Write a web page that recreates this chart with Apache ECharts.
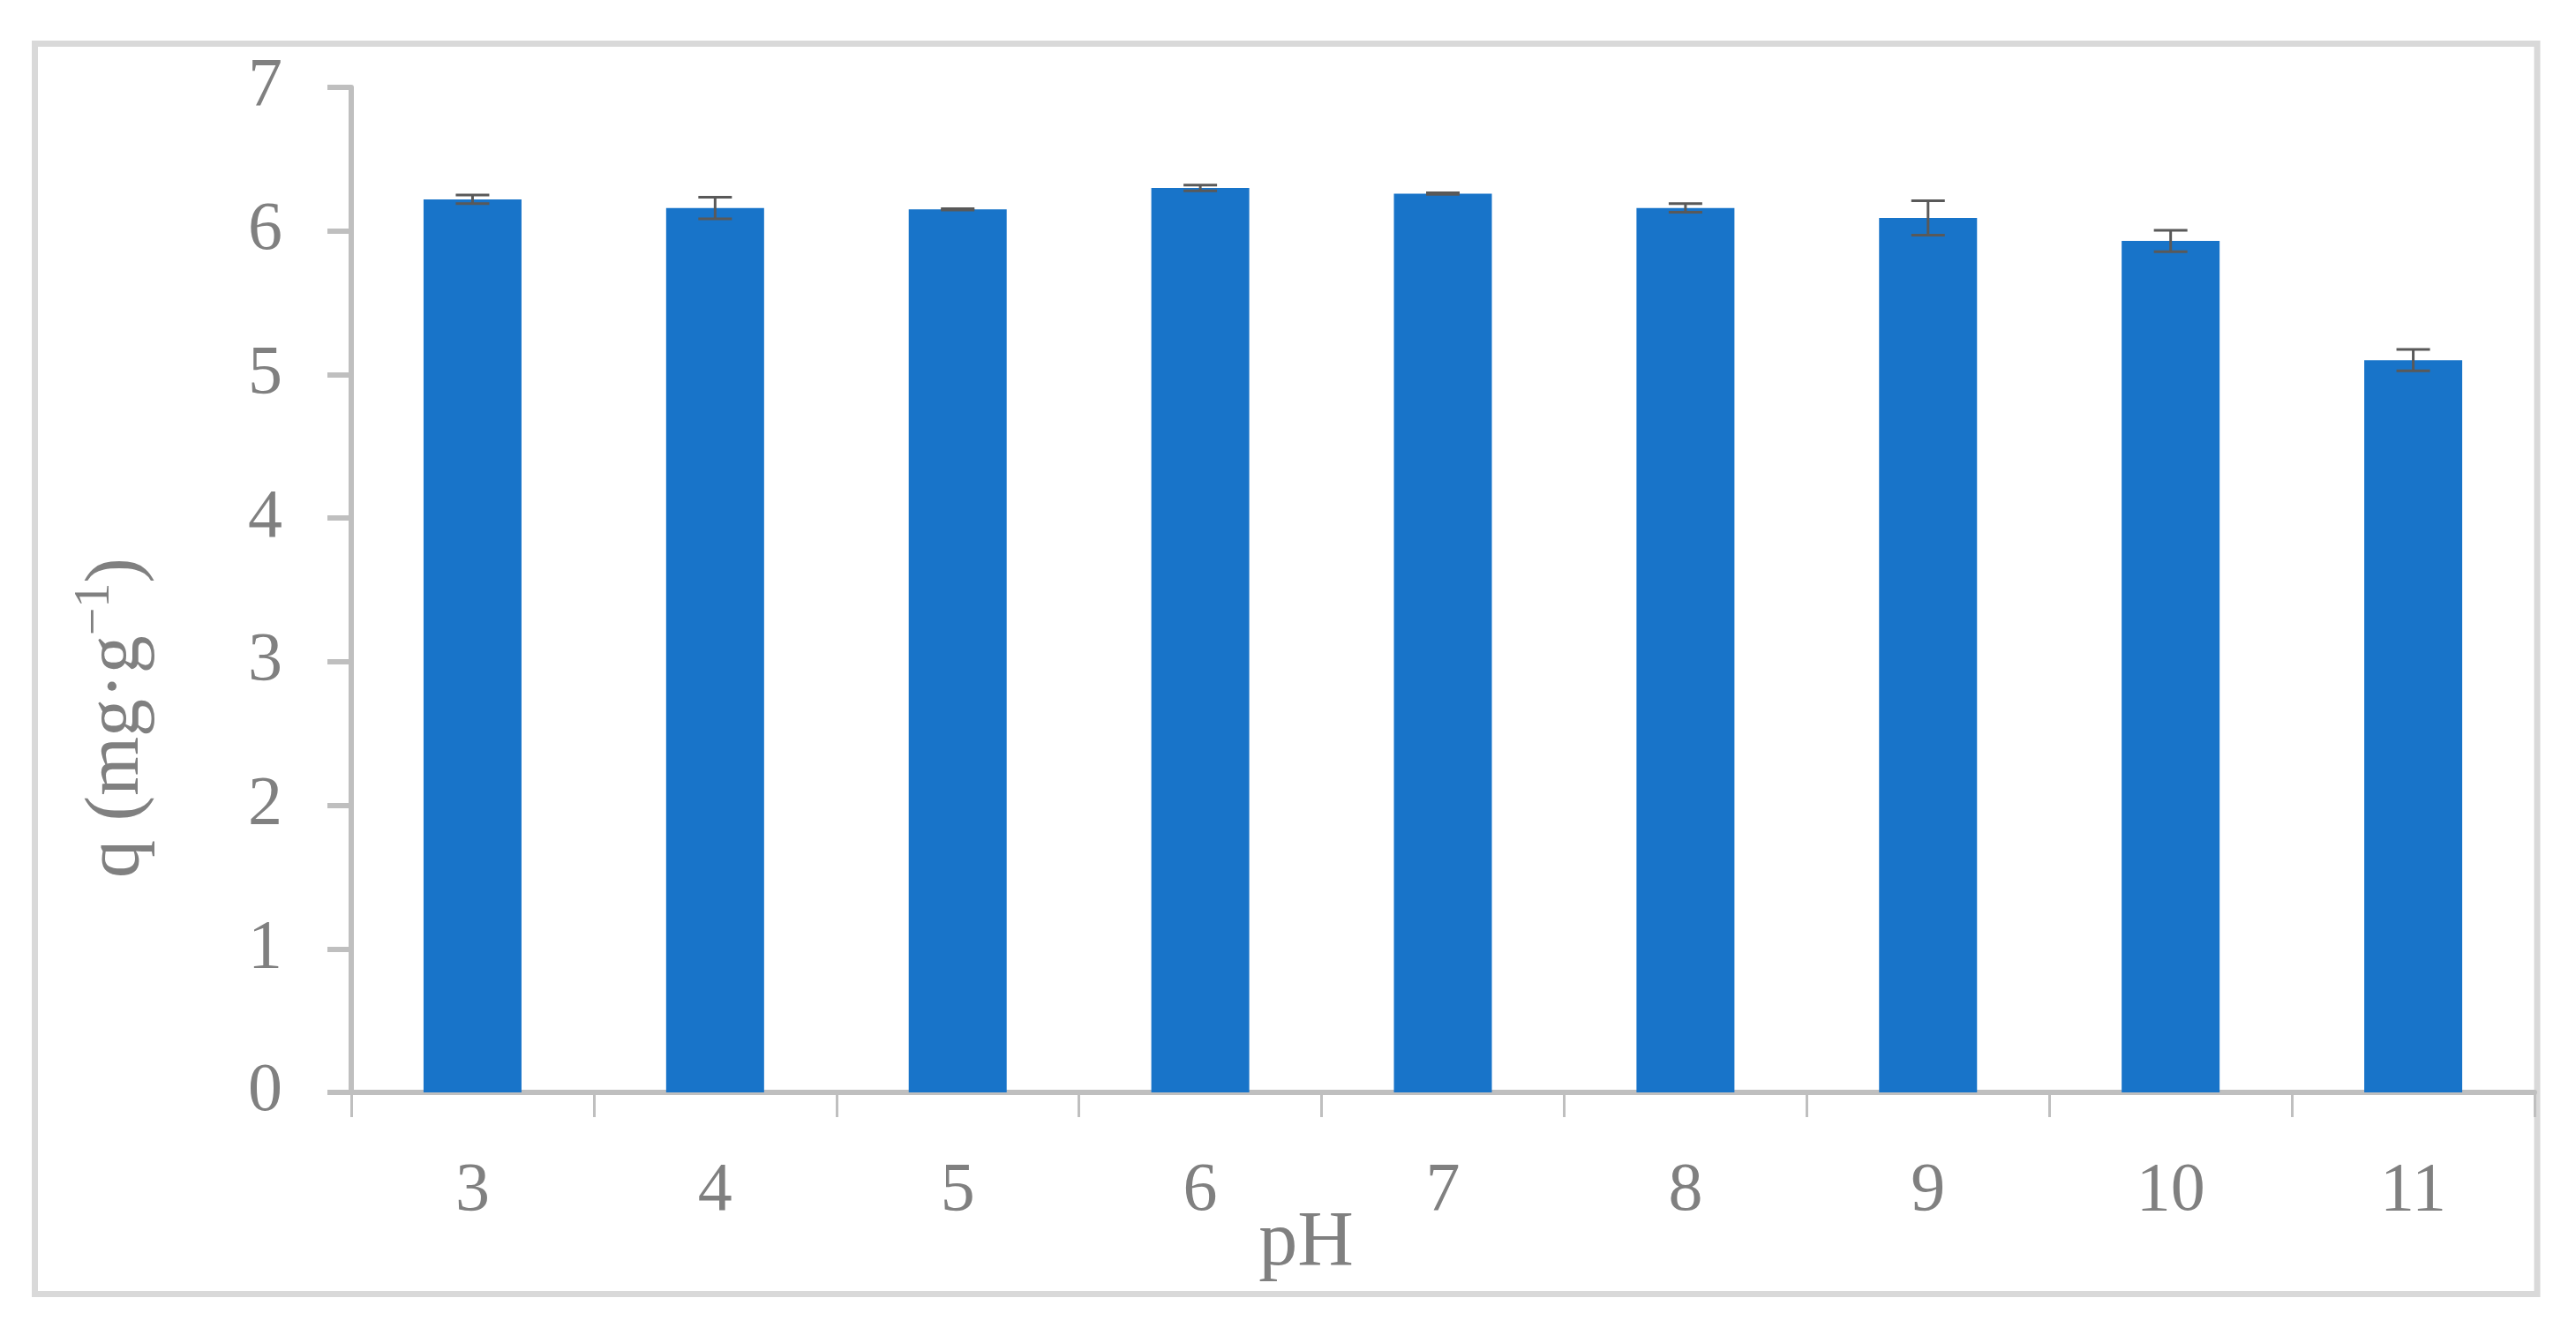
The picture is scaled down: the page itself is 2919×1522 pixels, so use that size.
<!DOCTYPE html>
<html>
<head>
<meta charset="utf-8">
<script src="https://cdn.jsdelivr.net/npm/echarts@6/dist/echarts.min.js"></script>
<style>
html,body{margin:0;padding:0;background:#fff;}
#chart{width:2919px;height:1522px;}
</style>
</head>
<body>
<div id="chart"></div>
<script>
const categories = ['3', '4', '5', '6', '7', '8', '9', '10', '11'];
const qValues = [6.22, 6.16, 6.15, 6.30, 6.26, 6.16, 6.09, 5.93, 5.10];
const qErrors = [0.03, 0.075, 0.005, 0.02, 0.005, 0.03, 0.12, 0.075, 0.075];
const yTicks = [0, 1, 2, 3, 4, 5, 6, 7];

const FONT = 'Liberation Serif';
const GREY = '#808080';

const chart = echarts.init(document.getElementById('chart'), null, {renderer: 'canvas'});

const errData = qValues.map((v, i) => [i, v, qErrors[i]]);

chart.setOption({
  animation: false,
  backgroundColor: '#ffffff',
  graphic: [{
    type: 'rect',
    shape: {x: 39.5, y: 49.5, width: 2835.5, height: 1417},
    style: {fill: 'none', stroke: '#d9d9d9', lineWidth: 7},
    silent: true,
    z: 0
  }],
  grid: {left: 398, top: 99, width: 2474, height: 1139, containLabel: false},
  xAxis: {
    type: 'category',
    data: categories,
    boundaryGap: true,
    name: 'pH',
    nameLocation: 'middle',
    nameGap: 128,
    nameMoveOverlap: false,
    nameTextStyle: {fontFamily: FONT, fontSize: 88, color: GREY, padding: [0, 310, 0, 0]},
    axisLine: {show: true, lineStyle: {color: '#bfbfbf', width: 6}},
    axisTick: {show: true, alignWithLabel: false, length: 28, lineStyle: {color: '#bfbfbf', width: 3}},
    axisLabel: {fontFamily: FONT, fontSize: 78, color: GREY, margin: 74},
    splitLine: {show: false}
  },
  yAxis: {
    type: 'value',
    min: yTicks[0],
    max: yTicks[yTicks.length - 1],
    interval: 1,
    name: '{a|q (mg·g}{b|−1}{a|)}',
    nameLocation: 'middle',
    nameGap: 222,
    nameRotate: 90,
    nameMoveOverlap: false,
    nameTextStyle: {
      color: GREY,
      padding: [0, 290, 0, 0],
      rich: {
        a: {fontFamily: FONT, fontSize: 86, color: GREY, lineHeight: 96, verticalAlign: 'bottom'},
        b: {fontFamily: FONT, fontSize: 56, color: GREY, lineHeight: 56, verticalAlign: 'top'}
      }
    },
    axisLine: {show: true, lineStyle: {color: '#bfbfbf', width: 6}},
    axisTick: {show: true, inside: false, length: 27, lineStyle: {color: '#bfbfbf', width: 6}},
    axisLabel: {fontFamily: FONT, fontSize: 78, color: GREY, margin: 78},
    splitLine: {show: false}
  },
  series: [
    {
      type: 'bar',
      data: qValues,
      barWidth: 111,
      itemStyle: {color: '#1874c9'},
      z: 2
    },
    {
      type: 'custom',
      data: errData,
      z: 5,
      renderItem: function (params, api) {
        const x = api.value(0);
        const v = api.value(1);
        const e = api.value(2);
        const top = api.coord([x, v + e]);
        const bot = api.coord([x, v - e]);
        const hw = 19;
        const st = {stroke: '#595959', lineWidth: 3};
        return {
          type: 'group',
          children: [
            {type: 'line', shape: {x1: top[0], y1: top[1], x2: bot[0], y2: bot[1]}, style: st},
            {type: 'line', shape: {x1: top[0] - hw, y1: top[1], x2: top[0] + hw, y2: top[1]}, style: st},
            {type: 'line', shape: {x1: bot[0] - hw, y1: bot[1], x2: bot[0] + hw, y2: bot[1]}, style: st}
          ]
        };
      }
    }
  ]
});
</script>
</body>
</html>
